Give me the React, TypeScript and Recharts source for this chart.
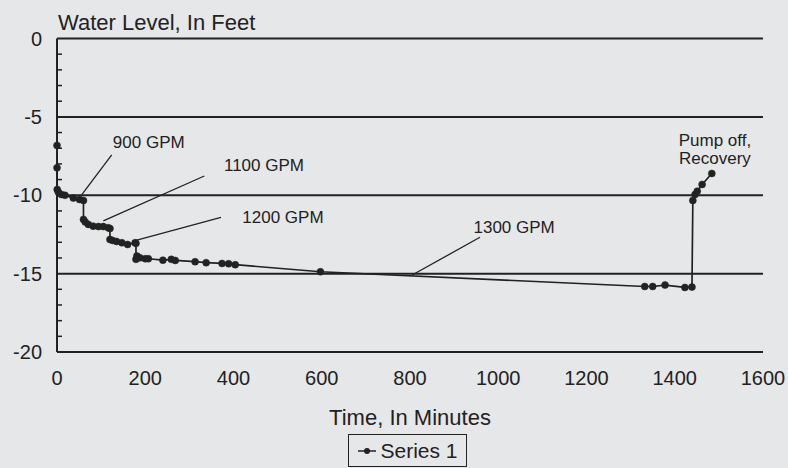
import {
  LineChart,
  Line,
  XAxis,
  YAxis,
  Legend,
  ReferenceLine,
  ReferenceDot,
} from 'recharts'

// time since pumping started, minutes
const minutes = [
  0, 0, 0.5, 3, 10, 18, 37, 51, 60, 60, 64, 71, 82, 94, 105, 116, 120, 120, 126, 135, 147, 160, 177, 179,
  179, 181, 188, 200, 207, 240, 259, 268, 313, 338, 374, 389, 404, 597, 1332, 1350, 1378, 1423, 1439,
  1441, 1446, 1451, 1462, 1484,
]

// water level, feet
const levelFt = [
  -6.82, -8.25, -9.63, -9.8, -9.95, -10.0, -10.18, -10.27, -10.33, -11.54, -11.7, -11.86, -11.97, -12.0,
  -12.0, -12.07, -12.12, -12.82, -12.88, -12.95, -13.03, -13.14, -13.03, -13.07, -14.09, -13.88, -13.99,
  -14.05, -14.05, -14.14, -14.09, -14.16, -14.24, -14.3, -14.35, -14.37, -14.43, -14.88, -15.82, -15.82,
  -15.73, -15.88, -15.86, -10.33, -9.95, -9.74, -9.31, -8.61,
]

const xTicks = [0, 200, 400, 600, 800, 1000, 1200, 1400, 1600]
const yMajor = [0, -5, -10, -15]
// every foot gets a tick, labels only on the 5 ft ones
const yTicks = [
  0, -1, -2, -3, -4, -5, -6, -7, -8, -9, -10, -11, -12, -13, -14, -15, -16, -17, -18, -19, -20,
]

// pumping-rate notes: text centre and leader line, in data units
const notes = [
  { text: ['900 GPM'], t: 208, v: -6.58, from: [124, -7.43], to: [53.7, -10.05] },
  { text: ['1100 GPM'], t: 469, v: -8.07, from: [333.8, -8.77], to: [105, -11.64] },
  { text: ['1200 GPM'], t: 512, v: -11.37, from: [371.7, -11.41], to: [176.8, -12.9] },
  { text: ['1300 GPM'], t: 1036, v: -12.0, from: [958.6, -12.68], to: [805, -15.09] },
  { text: ['Pump off,', 'Recovery'], t: 1491, v: -7.06, from: null, to: null },
]

const data = minutes.map((t, i) => ({ t, level: levelFt[i] }))

const ink = '#222'
const font = '"Liberation Sans", Arial, sans-serif'
const Y_MARGIN = 15

function YTick(props: any) {
  const { x, y, payload } = props
  const v = payload.value
  if (v % 5 === 0) {
    return (
      <text x={x} y={y} dy="0.36em" textAnchor="end" fontSize={20} fill={ink} fontFamily={font}>
        {v}
      </text>
    )
  }
  // minor tick, pointing into the plot
  const ax = x + Y_MARGIN
  return <line x1={ax} y1={y} x2={ax + 5} y2={y} stroke={ink} strokeWidth={1.5} />
}

function LegendBox() {
  return (
    <div
      style={{
        width: 119,
        height: 33,
        boxSizing: 'border-box',
        border: `1.5px solid ${ink}`,
        display: 'flex',
        alignItems: 'center',
        justifyContent: 'center',
        gap: 3,
        fontSize: 21,
        color: ink,
        fontFamily: font,
      }}
    >
      <svg width={20} height={10}>
        <line x1={1} y1={5} x2={19} y2={5} stroke={ink} strokeWidth={1.5} />
        <circle cx={10} cy={5} r={3} fill={ink} />
      </svg>
      <span>Series 1</span>
    </div>
  )
}

function noteShape(lines: string[]) {
  return (p: any) => {
    const lh = 18.3
    const top = p.cy - ((lines.length - 1) * lh) / 2
    return (
      <text x={p.cx} y={top} textAnchor="middle" fontSize={17} fill={ink} fontFamily={font}>
        {lines.map((s, i) => (
          <tspan key={i} x={p.cx} y={top + i * lh} dy="0.36em">
            {s}
          </tspan>
        ))}
      </text>
    )
  }
}

export default function App() {
  return (
    <div style={{ width: 788, height: 468, background: '#e6e7e9', fontFamily: font }}>
      <style>{'body{margin:0;background:#e6e7e9}'}</style>
      <LineChart width={788} height={468} data={data} margin={{ top: 38.5, right: 25, bottom: 0, left: 12 }}>
        <XAxis
          dataKey="t"
          type="number"
          domain={[0, 1600]}
          ticks={xTicks}
          height={83}
          tickLine={false}
          tickMargin={13}
          axisLine={{ stroke: ink, strokeWidth: 2 }}
          tick={{ fontSize: 20, fill: ink }}
          label={{ value: 'Time, In Minutes', position: 'insideBottom', offset: 10, fontSize: 22, fill: ink }}
        />
        <YAxis
          type="number"
          domain={[-20, 0]}
          ticks={yTicks}
          interval={0}
          width={45}
          tickLine={false}
          tickSize={0}
          tickMargin={Y_MARGIN}
          axisLine={{ stroke: ink, strokeWidth: 2 }}
          tick={<YTick />}
          label={(props: any) => {
            const vb = props.viewBox || { x: 12, y: 38.5, width: 45 }
            return (
              <text x={vb.x + vb.width + 1} y={vb.y - 9} fontSize={22} fill={ink} fontFamily={font}>
                Water Level, In Feet
              </text>
            )
          }}
        />
        {yMajor.map((v) => (
          <ReferenceLine key={'g' + v} y={v} stroke={ink} strokeWidth={2} />
        ))}
        <Legend
          verticalAlign="bottom"
          align="left"
          content={<LegendBox />}
          wrapperStyle={{ left: 348, bottom: 1, width: 119, height: 33 }}
        />
        {notes
          .filter((n) => n.from && n.to)
          .map((n, i) => (
            <ReferenceLine
              key={'l' + i}
              segment={[
                { x: n.from![0], y: n.from![1] },
                { x: n.to![0], y: n.to![1] },
              ]}
              stroke={ink}
              strokeWidth={1.3}
              ifOverflow="visible"
            />
          ))}
        {notes.map((n, i) => (
          <ReferenceDot key={'t' + i} x={n.t} y={n.v} r={0} ifOverflow="visible" shape={noteShape(n.text)} />
        ))}
        <Line
          type="linear"
          dataKey="level"
          stroke={ink}
          strokeWidth={1.7}
          dot={{ r: 3.5, fill: ink, stroke: ink, strokeWidth: 0.5 }}
          isAnimationActive={false}
          legendType="none"
        />
      </LineChart>
    </div>
  )
}
